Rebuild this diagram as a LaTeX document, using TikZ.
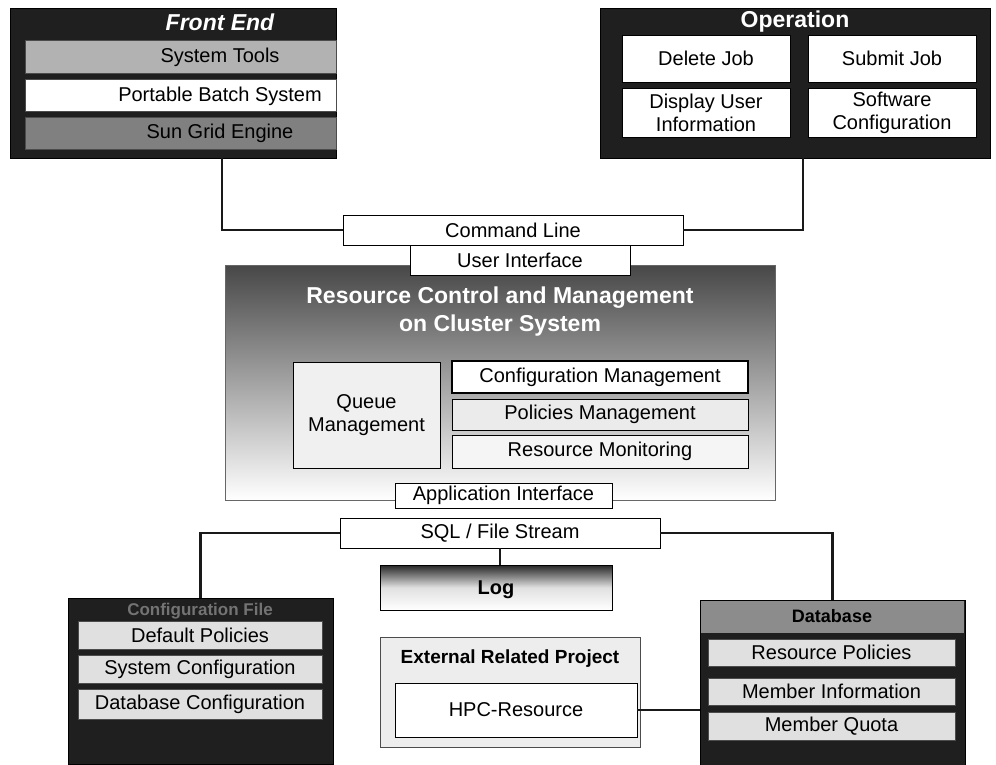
\documentclass[tikz,border=0pt]{standalone}
\usepackage{fontspec}
\setmainfont{Liberation Sans}
\begin{document}
\begin{tikzpicture}[x=1pt,y=-1pt,
  every node/.style={inner sep=0pt,outer sep=0pt},
  base/.style={font=\fontsize{20}{23}\selectfont},
  panel/.style={anchor=north west,fill=black!88,draw=black,line width=1pt},
  tbox/.style={base,anchor=north west,draw=black,line width=0.8pt,fill=white,align=center},
  band/.style={base,anchor=north west,draw=black!70,line width=0.6pt},
  label/.style={base,anchor=center},
  wtitle/.style={anchor=center,text=white,font=\fontsize{23}{26}\selectfont\bfseries},
  conn/.style={line width=2.8pt,draw=black!90}]
\useasboundingbox (0,0) rectangle (996,764);

% ---------------- Front End ----------------
\node[panel,minimum width=326,minimum height=150] (fe) at (10,8) {};
\node[wtitle,font=\fontsize{23}{26}\selectfont\bfseries\itshape] (fetitle) at (220,22) {Front End};
\node[band,fill=black!30,minimum width=311,minimum height=33] (st) at (25,40) {};
\node[band,fill=white,minimum width=311,minimum height=32] (pbs) at (25,79) {};
\node[band,fill=black!50,minimum width=311,minimum height=32] (sge) at (25,117) {};
\node[label] (sttext) at (220,57) {System Tools};
\node[label] (pbstext) at (220,96) {Portable Batch System};
\node[label] (sgetext) at (220,133) {Sun Grid Engine};

% ---------------- Operation ----------------
\node[panel,minimum width=390,minimum height=150] (op) at (600,8) {};
\node[wtitle] (optitle) at (795,22) {Operation};
\node[tbox,minimum width=168,minimum height=47] (del) at (622,35) {Delete Job};
\node[tbox,minimum width=168,minimum height=47] (sub) at (808,35) {Submit Job};
\node[tbox,minimum width=168,minimum height=49] (disp) at (622,88) {Display User\\Information};
\node[tbox,minimum width=168,minimum height=49] (soft) at (808,88) {Software\\Configuration};

% ---------------- Command line / user interface ----------------
\node[tbox,minimum width=340,minimum height=30] (cmd) at (343,215) {Command Line};

% ---------------- Resource control core ----------------
\node[anchor=north west,draw=black!60,line width=0.6pt,top color=black!72,bottom color=white,
      minimum width=550,minimum height=235] (core) at (225,265) {};
\node[wtitle,align=center,font=\fontsize{23}{28}\selectfont\bfseries] (coretitle) at (500,312)
  {Resource Control and Management\\on Cluster System};
\node[tbox,minimum width=220,minimum height=30] (ui) at (410,245) {User Interface};

\node[tbox,fill=black!6,minimum width=147,minimum height=106] (queue) at (293,362) {Queue\\Management};
\node[tbox,line width=1.4pt,minimum width=296,minimum height=32] (cfgm) at (452,361) {Configuration Management};
\node[tbox,fill=black!8,minimum width=296,minimum height=31] (polm) at (452,399) {Policies Management};
\node[tbox,fill=black!4,minimum width=296,minimum height=33] (resm) at (452,435) {Resource Monitoring};

\node[tbox,minimum width=217,minimum height=25] (api) at (395,483) {Application Interface};
\node[tbox,minimum width=320,minimum height=30] (sql) at (340,518) {SQL / File Stream};

% ---------------- Log and external project ----------------
\node[anchor=north west,draw=black,line width=0.8pt,top color=black!85,bottom color=white,
      middle color=black!12,minimum width=232,minimum height=45] (log) at (380,565) {};
\node[base,font=\fontsize{20}{23}\selectfont\bfseries] (logtext) at (496,590) {Log};

\node[anchor=north west,draw=black!70,line width=0.6pt,fill=black!7,
      minimum width=260,minimum height=110] (ext) at (380,637) {};
\node[base,font=\fontsize{19}{22}\selectfont\bfseries] (exttitle) at (510,659) {External Related Project};
\node[tbox,minimum width=242,minimum height=54] (hpc) at (395,683) {HPC-Resource};

% ---------------- Configuration files ----------------
\node[panel,minimum width=265,minimum height=166] (cf) at (68,598) {};
\node[base,text=black!55,font=\fontsize{17}{20}\selectfont\bfseries] (cftitle) at (200,611) {Configuration File};
\node[band,fill=black!12,minimum width=244,minimum height=28] (dp) at (78,621) {Default Policies};
\node[band,fill=black!12,minimum width=244,minimum height=28] (sc) at (78,655) {System Configuration};
\node[band,fill=black!12,minimum width=244,minimum height=30] (dc) at (78,689) {Database Configuration};

% ---------------- Database ----------------
\node[panel,minimum width=265,minimum height=166] (db) at (700,600) {};
\node[anchor=north west,fill=black!45,minimum width=263,minimum height=32] (dbhead) at (701,601) {};
\node[base,font=\fontsize{18}{21}\selectfont\bfseries] (dbtitle) at (832,616) {Database};
\node[band,fill=black!12,minimum width=247,minimum height=27] (rp) at (708,639) {Resource Policies};
\node[band,fill=black!12,minimum width=247,minimum height=27] (mi) at (708,678) {Member Information};
\node[band,fill=black!12,minimum width=247,minimum height=28] (mq) at (708,712) {Member Quota};

% ---------------- Connectors ----------------
\coordinate (feout) at (222,158);
\coordinate (opout) at (803,158);
\draw[conn] (feout) |- (cmd.west);
\draw[conn] (opout) |- (cmd.east);
\draw[conn] (sql.west) -| (cf.north);
\draw[conn] (sql.east) -| (db.north);
\draw[conn] (sql.south) -- (sql.south |- log.north);
\draw[conn] (hpc.east) -- (hpc.east -| db.west);
\end{tikzpicture}
\end{document}
